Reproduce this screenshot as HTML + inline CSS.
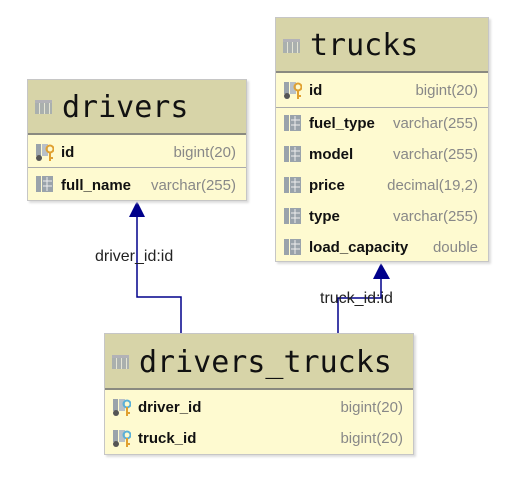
<!DOCTYPE html>
<html><head><style>
body{margin:0;width:509px;height:485px;background:#fff;position:relative;overflow:hidden;font-family:"Liberation Sans",sans-serif}
.t{position:absolute;background:#fefad0;border:1px solid #c6c6c6;box-shadow:2px 2px 2px #ddd;box-sizing:border-box}
.h{position:absolute;left:0;right:0;top:0;background:#d7d4a8;border-bottom:2px solid #8a8a80}
.h span{position:absolute;left:34px;font-family:"DejaVu Sans Mono","Liberation Mono",monospace;font-size:30px;color:#111;line-height:36px}
.ti{position:absolute;left:7px;width:17px;height:14px;background:
linear-gradient(#aab 0 0) 0 0/100% 3px no-repeat,
repeating-linear-gradient(90deg,#9fa8b0 0 4px,#e8e8e0 4px 5px),#9fa8b0;opacity:.8}
.r{position:absolute;left:0;right:0;font-size:15px;font-family:"Liberation Sans",sans-serif}
.r b{position:absolute;left:33px;color:#111}
.r i{position:absolute;right:10px;font-style:normal;color:#888}
.sep{position:absolute;left:0;right:0;height:1px;background:#aaa}
.ic{position:absolute;left:8px;width:18px;height:17px}
.lbl{position:absolute;font-family:"Liberation Sans",sans-serif;font-size:16px;color:#222}
</style></head><body>

<svg width="509" height="485" style="position:absolute;left:0;top:0">
<polyline points="137,215 137,297 181,297 181,333" fill="none" stroke="#00008b" stroke-width="1.5"/>
<polygon points="137,201 129,217 145,217" fill="#00008b"/>
<polyline points="381,278 381,298 338,298 338,333" fill="none" stroke="#00008b" stroke-width="1.5"/>
<polygon points="381,263 373,279 390,279" fill="#00008b"/>
<defs>
<g id="col"><rect x="0" y="0" width="5" height="16" fill="#9aa3ab"/><rect x="6" y="0" width="11" height="16" fill="#9aa3ab"/><path d="M7 5h9M7 10h9M11 1v14" stroke="#eee" stroke-width="1"/></g>
<g id="key"><rect x="0" y="0" width="5" height="12" fill="#9aa3ab"/><rect x="6" y="0" width="6" height="12" fill="#b8c0c8"/><circle cx="3" cy="14" r="3" fill="#555"/><circle cx="14" cy="5" r="3.5" fill="none" stroke="#e0a030" stroke-width="2"/><path d="M14 8v9M14 14h3" stroke="#e0a030" stroke-width="2"/></g>
<g id="fk"><rect x="0" y="0" width="5" height="12" fill="#9aa3ab"/><rect x="6" y="0" width="6" height="12" fill="#b8c0c8"/><circle cx="3" cy="14" r="3" fill="#555"/><circle cx="14" cy="5" r="3.5" fill="none" stroke="#5ab0d8" stroke-width="2"/><path d="M14 8v9M14 14h3" stroke="#e0a030" stroke-width="2"/></g>
</defs>
</svg>

<div class="lbl" style="left:95px;top:248px">driver_id:id</div>
<div class="lbl" style="left:320px;top:290px">truck_id:id</div>

<!-- drivers -->
<div class="t" style="left:27px;top:79px;width:220px;height:122px">
<div class="h" style="height:53px"><div class="ti" style="top:20px"></div><span style="top:10px">drivers</span></div>
<svg class="ic" style="top:64px" width="20" height="18"><use href="#key"/></svg>
<div class="r" style="top:64px"><b>id</b><i>bigint(20)</i></div>
<div class="sep" style="top:87px"></div>
<svg class="ic" style="top:96px" width="20" height="18"><use href="#col"/></svg>
<div class="r" style="top:97px"><b>full_name</b><i>varchar(255)</i></div>
</div>

<!-- trucks -->
<div class="t" style="left:275px;top:17px;width:214px;height:245px">
<div class="h" style="height:53px"><div class="ti" style="top:21px"></div><span style="top:10px">trucks</span></div>
<svg class="ic" style="top:64px" width="20" height="18"><use href="#key"/></svg>
<div class="r" style="top:64px"><b>id</b><i>bigint(20)</i></div>
<div class="sep" style="top:89px"></div>
<svg class="ic" style="top:97px" width="20" height="18"><use href="#col"/></svg>
<div class="r" style="top:97px"><b>fuel_type</b><i>varchar(255)</i></div>
<svg class="ic" style="top:128px" width="20" height="18"><use href="#col"/></svg>
<div class="r" style="top:128px"><b>model</b><i>varchar(255)</i></div>
<svg class="ic" style="top:159px" width="20" height="18"><use href="#col"/></svg>
<div class="r" style="top:159px"><b>price</b><i>decimal(19,2)</i></div>
<svg class="ic" style="top:190px" width="20" height="18"><use href="#col"/></svg>
<div class="r" style="top:190px"><b>type</b><i>varchar(255)</i></div>
<svg class="ic" style="top:221px" width="20" height="18"><use href="#col"/></svg>
<div class="r" style="top:221px"><b>load_capacity</b><i>double</i></div>
</div>

<!-- drivers_trucks -->
<div class="t" style="left:104px;top:333px;width:310px;height:122px">
<div class="h" style="height:54px"><div class="ti" style="top:21px"></div><span style="top:11px">drivers_trucks</span></div>
<svg class="ic" style="top:65px" width="20" height="18"><use href="#fk"/></svg>
<div class="r" style="top:65px"><b>driver_id</b><i>bigint(20)</i></div>
<svg class="ic" style="top:96px" width="20" height="18"><use href="#fk"/></svg>
<div class="r" style="top:96px"><b>truck_id</b><i>bigint(20)</i></div>
</div>

</body></html>
